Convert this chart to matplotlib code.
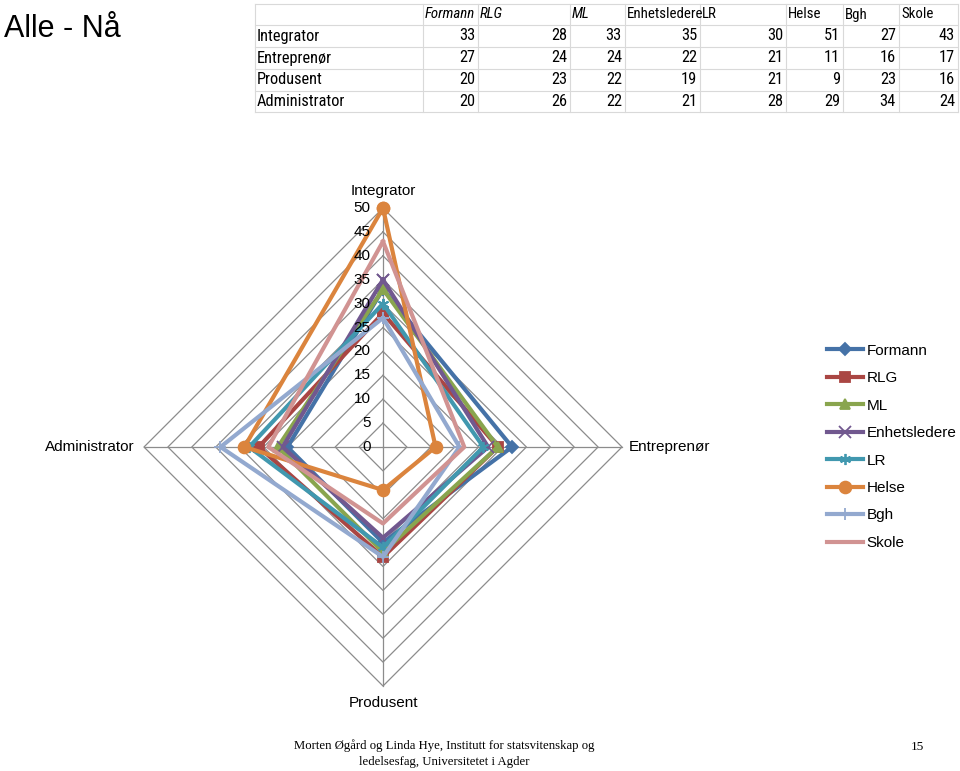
import numpy as np
import matplotlib
matplotlib.use("Agg")
import matplotlib.pyplot as plt
from matplotlib.lines import Line2D
import logging
logging.getLogger("matplotlib.font_manager").setLevel(logging.ERROR)

categories = ["Integrator", "Entreprenør", "Produsent", "Administrator"]
series_names = ["Formann", "RLG", "ML", "Enhetsledere", "LR", "Helse", "Bgh", "Skole"]
formann = [33, 27, 20, 20]
rlg = [28, 24, 23, 26]
ml = [33, 24, 22, 22]
enhetsledere = [35, 22, 19, 21]
lr = [30, 21, 21, 28]
helse = [51, 11, 9, 29]
bgh = [27, 16, 23, 34]
skole = [43, 17, 16, 24]
series_values = [formann, rlg, ml, enhetsledere, lr, helse, bgh, skole]
r_ticks = [0, 5, 10, 15, 20, 25, 30, 35, 40, 45, 50]
r_max = 50

colors = ["#4572A7", "#AA4643", "#89A54E", "#71588F", "#4198AF", "#DB843D", "#93A9CF", "#D19392"]
markers = ["D", "s", "^", "x", (6, 2, 0), "o", "+", None]
msizes = [6.5, 6.5, 7.5, 8, 8, 8.5, 9, 0]

W, H = 960, 771
fig = plt.figure(figsize=(W / 100, H / 100), dpi=100)

def fx(px):
    return px / W

def fy(py):
    return 1 - py / H

narrow = ["Liberation Sans Narrow", "Roboto Condensed", "DejaVu Sans Condensed", "Liberation Sans", "DejaVu Sans"]
lab_font = ["Liberation Sans", "DejaVu Sans"]

# Title
fig.text(fx(4), fy(29), "Alle - Nå", fontsize=22, family=lab_font, va="center", ha="left")

# Table
col_edges = [255, 423, 478, 570, 625, 700, 786, 843, 899, 958]
row_edges = [4, 25, 47, 69, 91, 112]
italic_hdr = {"Formann", "RLG", "ML"}
for ye in row_edges:
    fig.add_artist(Line2D([fx(col_edges[0]), fx(col_edges[-1])], [fy(ye), fy(ye)], color="#d9d9d9", lw=0.8))
for xe in col_edges:
    fig.add_artist(Line2D([fx(xe), fx(xe)], [fy(row_edges[0]), fy(row_edges[-1])], color="#d9d9d9", lw=0.8))
hy = (row_edges[0] + row_edges[1]) / 2
for j, name in enumerate(series_names):
    fig.text(fx(col_edges[j + 1] + 2), fy(hy), name, fontsize=10.7, family=narrow,
             style="italic" if name in italic_hdr else "normal", va="center", ha="left")
for i, cat in enumerate(categories):
    yc = (row_edges[i + 1] + row_edges[i + 2]) / 2
    fig.text(fx(col_edges[0] + 2), fy(yc), cat, fontsize=11.8, family=narrow, va="center", ha="left")
    for j, vals in enumerate(series_values):
        fig.text(fx(col_edges[j + 2] - 3), fy(yc), str(vals[i]), fontsize=11.8, family=narrow,
                 va="center", ha="right")

# Radar axes
cx, cy, R = 383, 447, 239
ax = fig.add_axes([fx(cx - R), fy(cy + R), 2 * R / W, 2 * R / H])
ax.set_xlim(-r_max, r_max)
ax.set_ylim(-r_max, r_max)
ax.axis("off")

angles = np.pi / 2 - np.arange(len(categories)) * 2 * np.pi / len(categories)
ca, sa = np.cos(angles), np.sin(angles)

for t in r_ticks[1:]:
    xs = np.append(t * ca, t * ca[0])
    ys = np.append(t * sa, t * sa[0])
    ax.plot(xs, ys, color="#8c8c8c", lw=0.9, zorder=1, clip_on=False)
for k in range(len(categories)):
    ax.plot([0, r_max * ca[k]], [0, r_max * sa[k]], color="#8c8c8c", lw=0.9, zorder=1, clip_on=False)

for t in r_ticks:
    ax.text(-2.6, t, str(t), fontsize=11, ha="right", va="center", family=lab_font, zorder=5)

for name, vals, c, m, ms in zip(series_names, series_values, colors, markers, msizes):
    v = np.minimum(np.array(vals, dtype=float), r_max)
    xs = np.append(v * ca, v[0] * ca[0])
    ys = np.append(v * sa, v[0] * sa[0])
    ax.plot(xs, ys, color=c, lw=3, marker=m if m is not None else "None", ms=ms, mew=1.3,
            label=name, zorder=3, clip_on=False)

ax.text(0, r_max + 2.0, categories[0], ha="center", va="bottom", fontsize=11, family=lab_font)
ax.text(r_max + 1.5, 0, categories[1], ha="left", va="center", fontsize=11, family=lab_font)
ax.text(0, -r_max - 2.0, categories[2], ha="center", va="top", fontsize=11, family=lab_font)
ax.text(-r_max - 2.0, 0, categories[3], ha="right", va="center", fontsize=11, family=lab_font)

leg = fig.legend(*ax.get_legend_handles_labels(), loc="upper left",
                 bbox_to_anchor=(fx(813), fy(330)), frameon=False,
                 labelspacing=0.88, handlelength=2.4, handletextpad=0.2,
                 prop={"family": lab_font, "size": 11})

# Footer
serif = ["Liberation Serif", "DejaVu Serif"]
fig.text(fx(444), fy(753.5), "Morten Øgård og Linda Hye, Institutt for statsvitenskap og\nledelsesfag, Universitetet i Agder",
         fontsize=9.2, family=serif, ha="center", va="center", linespacing=1.4)
fig.text(fx(917), fy(747), "15", fontsize=9.5, family=serif, ha="center", va="center")

fig.savefig("out.png", dpi=100)
